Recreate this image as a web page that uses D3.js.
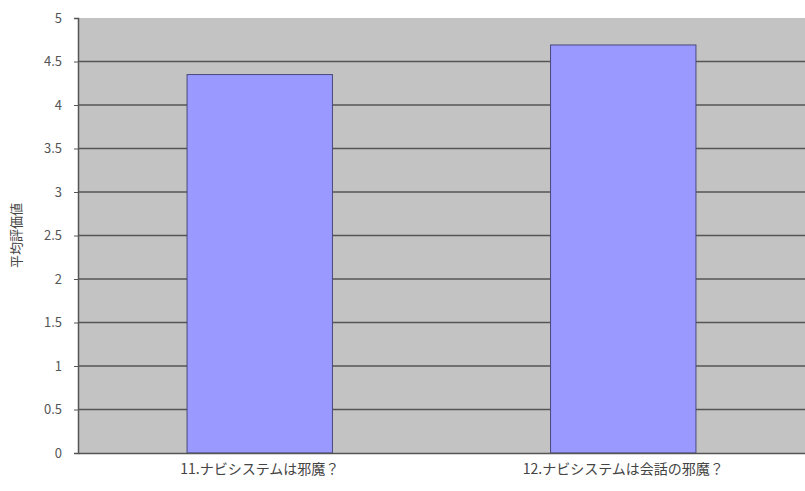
<!DOCTYPE html>
<html><head><meta charset="utf-8">
<script src="https://cdn.jsdelivr.net/npm/d3@7"></script>
<style>body{margin:0;background:#fff;} svg{display:block;}</style>
</head><body>
<svg id="c" width="805" height="491"></svg>
<script>
const categories = ["11.ナビシステムは邪魔？", "12.ナビシステムは会話の邪魔？"];
const values = [4.35, 4.69];
const yTicks = [0, 0.5, 1, 1.5, 2, 2.5, 3, 3.5, 4, 4.5, 5];
const yLabel = "平均評価値";

const svg = d3.select("#c");
const m = {left: 78, right: 0, top: 18, bottom: 38};
const W = 805, H = 491;
const x = d3.scaleBand().domain(categories).range([m.left, W - m.right]).paddingInner(0.6).paddingOuter(0.3);
const xb = d3.scaleBand().domain(categories).range([m.left, W - m.right]);
const y = d3.scaleLinear().domain([0, 5]).range([H - m.bottom, m.top]);
const font = "'Noto Sans CJK JP', 'DejaVu Sans', sans-serif";

svg.append("rect").attr("x", m.left).attr("y", m.top)
  .attr("width", W - m.right - m.left).attr("height", y(0) - m.top)
  .attr("fill", "#c3c3c3");

svg.append("g").selectAll("line").data(yTicks.filter(d => d > 0 && d < 5)).join("line")
  .attr("x1", m.left).attr("x2", W - m.right)
  .attr("y1", d => y(d)).attr("y2", d => y(d))
  .attr("stroke", "#555").attr("stroke-width", 1.5);

svg.append("g").selectAll("rect").data(values).join("rect")
  .attr("x", (d, i) => x(categories[i])).attr("width", x.bandwidth())
  .attr("y", d => y(d)).attr("height", d => y(0) - y(d))
  .attr("fill", "#9999ff").attr("stroke", "#4a4a7a").attr("stroke-width", 1);

// axes
const ya = svg.append("g").attr("transform", `translate(${m.left},0)`)
  .call(d3.axisLeft(y).tickValues(yTicks).tickSize(4).tickPadding(12).tickFormat(d3.format("")));
ya.select(".domain").attr("stroke", "#555").attr("stroke-width", 1.5);
ya.selectAll(".tick line").attr("stroke", "#555");
ya.selectAll("text").attr("font-family", font).attr("font-size", 13).attr("fill", "#555");

const xa = svg.append("g").attr("transform", `translate(0,${y(0)})`)
  .call(d3.axisBottom(xb).tickSize(0).tickPadding(11));
xa.select(".domain").attr("stroke", "#555").attr("stroke-width", 1.5);
xa.selectAll("text").attr("font-family", font).attr("font-size", 14).attr("fill", "#444");

svg.append("text").attr("transform", `translate(21,${(m.top + y(0)) / 2}) rotate(-90)`)
  .attr("text-anchor", "middle").attr("font-family", font).attr("font-size", 13)
  .attr("fill", "#444").text(yLabel);
</script>
</body></html>
